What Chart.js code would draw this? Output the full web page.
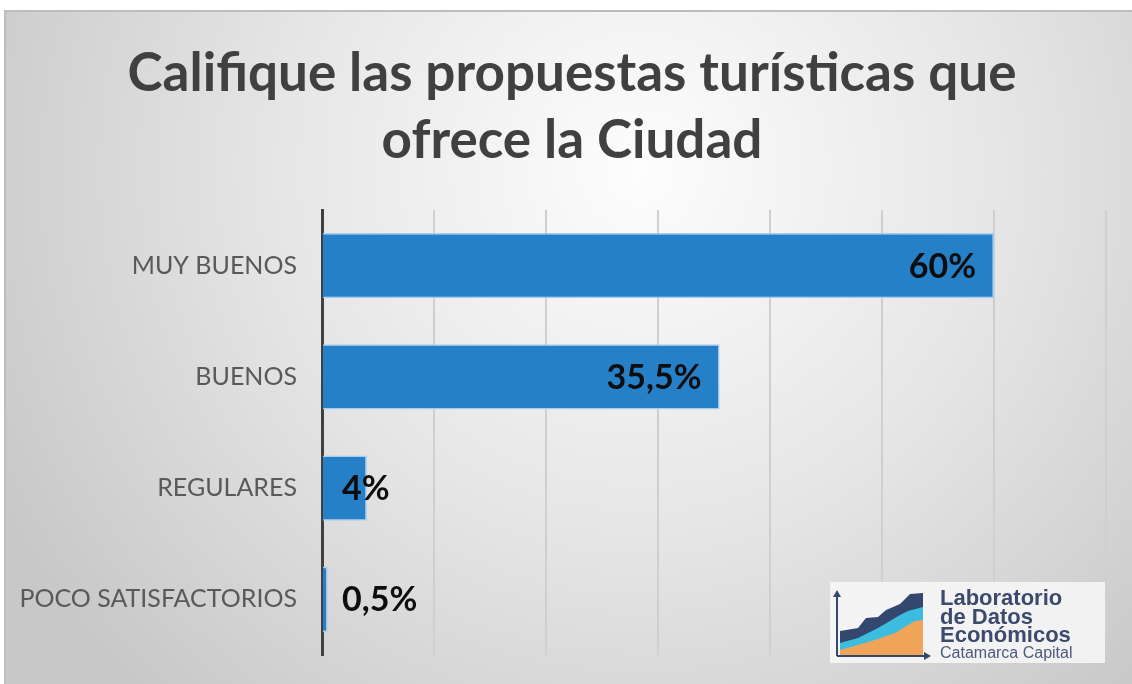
<!DOCTYPE html>
<html><head><meta charset="utf-8">
<script src="https://cdn.jsdelivr.net/npm/chart.js@4.4.0/dist/chart.umd.min.js"></script>
<style>html,body{margin:0;padding:0;background:#fff;overflow:hidden}#wrap{position:relative;width:1132px;height:684px}</style>
</head><body><div id="wrap"><canvas id="c" width="1132" height="684"></canvas></div>
<script>
const categories = ['MUY BUENOS', 'BUENOS', 'REGULARES', 'POCO SATISFACTORIOS'];
const values = [60, 35.5, 4, 0.5];
const titleLines = ['Califique las propuestas turísticas que', 'ofrece la Ciudad'];
const axisMax = 70;
const axisStep = 10;
const logoLines = ['Laboratorio', 'de Datos', 'Económicos'];
const logoSub = 'Catamarca Capital';

const fmt = v => String(v).replace('.', ',') + '%';

const bgPlugin = {
  id: 'bg',
  afterLayout(chart) {
    // let the category labels extend to the left edge without being clipped
    chart.scales.y.left = 0;
  },
  beforeDraw(chart) {
    const ctx = chart.ctx;
    ctx.save();
    ctx.fillStyle = '#ffffff';
    ctx.fillRect(0, 0, chart.width, chart.height);
    const g = ctx.createRadialGradient(640, 170, 0, 640, 170, 720);
    g.addColorStop(0, '#fdfdfd');
    g.addColorStop(0.5, '#e6e6e6');
    g.addColorStop(1, '#c8c8c8');
    ctx.fillStyle = g;
    ctx.fillRect(5, 10, chart.width - 5, chart.height - 10);
    ctx.strokeStyle = '#bdbdbd';
    ctx.lineWidth = 2;
    ctx.beginPath();
    ctx.moveTo(5, chart.height); ctx.lineTo(5, 11); ctx.lineTo(chart.width, 11);
    ctx.stroke();
    ctx.restore();
  }
};

const labelPlugin = {
  id: 'vlabels',
  afterDatasetsDraw(chart) {
    const ctx = chart.ctx;
    const meta = chart.getDatasetMeta(0);
    const left = chart.chartArea.left;
    ctx.save();
    ctx.font = 'bold 34px Lato';
    ctx.fillStyle = '#0d0d0d';
    ctx.textBaseline = 'middle';
    meta.data.forEach((bar, i) => {
      const txt = fmt(values[i]);
      const w = ctx.measureText(txt).width;
      if (bar.x - left > w + 40) {
        ctx.textAlign = 'right';
        ctx.fillText(txt, bar.x - 18, bar.y + 1);
      } else {
        ctx.textAlign = 'left';
        ctx.fillText(txt, left + 20, bar.y + 1);
      }
    });
    ctx.restore();
  }
};

const logoPlugin = {
  id: 'logo',
  afterDraw(chart) {
    const ctx = chart.ctx;
    const ox = 830, oy = 582;
    ctx.save();
    ctx.fillStyle = 'rgba(248,248,248,0.85)';
    ctx.fillRect(ox, oy, 275, 81);
    const poly = (pts, color) => {
      ctx.beginPath();
      ctx.moveTo(ox + pts[0][0], oy + 73);
      pts.forEach(p => ctx.lineTo(ox + p[0], oy + p[1]));
      ctx.lineTo(ox + pts[pts.length - 1][0], oy + 73);
      ctx.closePath();
      ctx.fillStyle = color;
      ctx.fill();
    };
    poly([[10,49],[28,46],[36,36],[48,35],[56,28],[70,22],[80,12],[93,11]], '#34486f');
    poly([[10,61],[28,56],[48,46],[70,33],[78,29],[93,25]], '#3cbde0');
    poly([[10,68],[28,63],[48,57],[65,51],[78,43],[85,39],[93,38]], '#f0a458');
    ctx.strokeStyle = '#34486f';
    ctx.fillStyle = '#34486f';
    ctx.lineWidth = 2;
    ctx.beginPath();
    ctx.moveTo(ox + 7, oy + 74); ctx.lineTo(ox + 7, oy + 12);
    ctx.moveTo(ox + 7, oy + 74); ctx.lineTo(ox + 97, oy + 74);
    ctx.stroke();
    ctx.beginPath();
    ctx.moveTo(ox + 7, oy + 8); ctx.lineTo(ox + 3, oy + 15); ctx.lineTo(ox + 11, oy + 15); ctx.closePath(); ctx.fill();
    ctx.beginPath();
    ctx.moveTo(ox + 101, oy + 74); ctx.lineTo(ox + 94, oy + 70); ctx.lineTo(ox + 94, oy + 78); ctx.closePath(); ctx.fill();
    ctx.fillStyle = '#3b4a6d';
    ctx.font = 'bold 22px "Liberation Sans"';
    ctx.textAlign = 'left';
    ctx.textBaseline = 'alphabetic';
    ctx.fillText(logoLines[0], ox + 110, oy + 23);
    ctx.fillText(logoLines[1], ox + 110, oy + 42);
    ctx.fillText(logoLines[2], ox + 110, oy + 60);
    ctx.fillStyle = '#4a5a7e';
    ctx.font = '16px "Liberation Sans"';
    ctx.fillText(logoSub, ox + 110, oy + 76);
    ctx.restore();
  }
};

new Chart(document.getElementById('c'), {
  type: 'bar',
  data: {
    labels: categories,
    datasets: [{
      data: values,
      backgroundColor: '#2680c8',
      borderColor: '#a8cdee',
      borderWidth: 1.5,
      categoryPercentage: 1,
      barPercentage: 0.585
    }]
  },
  options: {
    indexAxis: 'y',
    responsive: false,
    animation: false,
    devicePixelRatio: 1,
    layout: { padding: { left: 38, right: 26, top: 0, bottom: 29 } },
    plugins: {
      legend: { display: false },
      tooltip: { enabled: false },
      title: {
        display: true,
        text: titleLines,
        color: '#404040',
        font: { family: 'Lato', size: 53, weight: 'bold', lineHeight: 1.27 },
        padding: { top: 40, bottom: 35.4 }
      }
    },
    scales: {
      x: {
        min: 0, max: axisMax,
        afterFit(scale) { scale.height = 0; },
        ticks: { display: false, stepSize: axisStep },
        grid: { color: '#cfcfcf', lineWidth: 2, drawTicks: false },
        border: { display: false }
      },
      y: {
        afterFit(scale) { scale.width = 284; scale.paddingTop = 0; scale.paddingBottom = 0; },
        ticks: { color: '#595959', font: { family: 'Lato', size: 25 }, padding: 25 },
        grid: { display: false, drawTicks: false },
        border: { display: true, color: '#404040', width: 3 }
      }
    }
  },
  plugins: [bgPlugin, labelPlugin, logoPlugin]
});
</script>
</body></html>
